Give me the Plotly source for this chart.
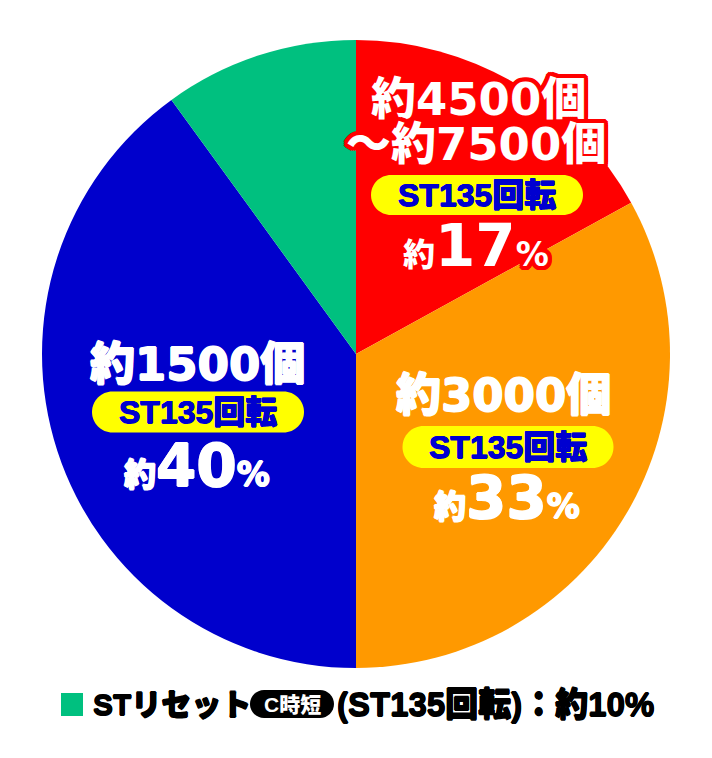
import plotly.graph_objects as go

# ---- data ----
slice_names = ["約4500個～約7500個", "約3000個", "約1500個", "STリセット"]
count_lines = [["約4500個", "～約7500個"], ["約3000個"], ["約1500個"], []]
percents = [17, 33, 40, 10]
colors = ["#FF0000", "#FF9900", "#0000CC", "#00C07F"]
st_label = "ST135回転"
legend_name = "STリセット"
legend_badge = "C時短"
legend_suffix = "(ST135回転)：約10%"

W, H = 712, 758


def px(x):
    return x / W


def py(y):
    return 1 - y / H


fig = go.Figure()
fig.add_trace(go.Pie(
    labels=slice_names, values=percents, sort=False, direction="clockwise",
    rotation=0, marker=dict(colors=colors, line=dict(width=0)),
    textinfo="none", hoverinfo="label+percent", showlegend=False,
    domain=dict(x=[px(40), px(672)], y=[py(668), py(40)]),
))

BIG = "DejaVu Sans, Noto Sans CJK JP"
ARIAL = "Liberation Sans, Noto Sans CJK JP"


def outline(c, r=4):
    offs = [(r, 0), (-r, 0), (0, r), (0, -r), (3, 3), (-3, 3), (3, -3), (-3, -3),
            (r, 2), (-r, 2), (r, -2), (-r, -2), (2, r), (-2, r), (2, -r), (-2, -r)]
    return ", ".join(f"{a}px {b}px 0 {c}" for a, b in offs)


def bolden(c, d=0.8):
    offs = [(d, 0), (-d, 0), (0, d), (0, -d)]
    return ", ".join(f"{a}px {b}px 0 {c}" for a, b in offs)


def pill_path(cx, cy, w, h):
    r = h / 2
    k = 0.5523 * r
    x0, x1 = cx - w / 2 + r, cx + w / 2 - r
    y0, y1 = cy - r, cy + r
    pts = []
    pts.append(f"M {px(x0)},{py(y0)}")
    pts.append(f"L {px(x1)},{py(y0)}")
    pts.append(f"C {px(x1 + k)},{py(y0)} {px(x1 + r)},{py(cy - k)} {px(x1 + r)},{py(cy)}")
    pts.append(f"C {px(x1 + r)},{py(cy + k)} {px(x1 + k)},{py(y1)} {px(x1)},{py(y1)}")
    pts.append(f"L {px(x0)},{py(y1)}")
    pts.append(f"C {px(x0 - k)},{py(y1)} {px(x0 - r)},{py(cy + k)} {px(x0 - r)},{py(cy)}")
    pts.append(f"C {px(x0 - r)},{py(cy - k)} {px(x0 - k)},{py(y0)} {px(x0)},{py(y0)} Z")
    return " ".join(pts)


shapes = []
annots = []


def add_text(text, x, y, size, color="white", family=BIG, shadow=None, xanchor="center"):
    f = dict(family=family, size=size, color=color, weight=900)
    if shadow:
        f["shadow"] = shadow
    annots.append(dict(text=text, x=px(x), y=py(y), xref="paper", yref="paper",
                       xanchor=xanchor, yanchor="middle", showarrow=False, font=f))


def pct_text(p, small, big, pcts):
    return (f"<span style='font-size:{small}px'>約</span>"
            f"<span style='font-size:{big}px'>{p}</span>"
            f"<span style='font-size:{pcts}px'>%</span>")


blocks = [
    dict(i=0, lines=[(478, 99), (476, 144)], pill=(477, 195, 212, 40), pct=(476, 246),
         shadow=outline("#FF0000")),
    dict(i=1, lines=[(503, 395)], pill=(508, 447, 211, 42), pct=(507, 498),
         shadow=bolden("white")),
    dict(i=2, lines=[(197, 364)], pill=(198, 412, 212, 41), pct=(197, 466),
         shadow=bolden("white")),
]

for b in blocks:
    i = b["i"]
    for txt, (x, y) in zip(count_lines[i], b["lines"]):
        add_text(txt, x, y, 45, shadow=b["shadow"])
    cx, cy, w, h = b["pill"]
    shapes.append(dict(type="path", path=pill_path(cx, cy, w, h), xref="paper", yref="paper",
                       fillcolor="#FFFF00", line=dict(width=0), layer="above"))
    add_text(st_label, cx, cy, 32, color="#0000D0", family=ARIAL, shadow=bolden("#0000D0", 0.5))
    add_text(pct_text(percents[i], 32, 58, 33), b["pct"][0], b["pct"][1], 58,
             shadow=b["shadow"])

# legend
shapes.append(dict(type="rect", x0=px(61), x1=px(83), y0=py(716), y1=py(693),
                   xref="paper", yref="paper", fillcolor=colors[3], line=dict(width=0)))
add_text(legend_name, 91, 704, 30, color="black", family=ARIAL, xanchor="left",
         shadow=bolden("black", 0.6))
shapes.append(dict(type="path", path=pill_path(292, 704, 84, 28), xref="paper", yref="paper",
                   fillcolor="black", line=dict(width=0), layer="above"))
add_text(legend_badge, 292, 704, 21, color="white", family=ARIAL)
add_text(legend_suffix, 335, 704, 33, color="black", family=ARIAL, xanchor="left",
         shadow=bolden("black", 0.6))

fig.update_layout(
    width=W, height=H, margin=dict(l=0, r=0, t=0, b=0),
    paper_bgcolor="white", plot_bgcolor="white",
    shapes=shapes, annotations=annots, showlegend=False,
)
fig.write_html("out.html")
